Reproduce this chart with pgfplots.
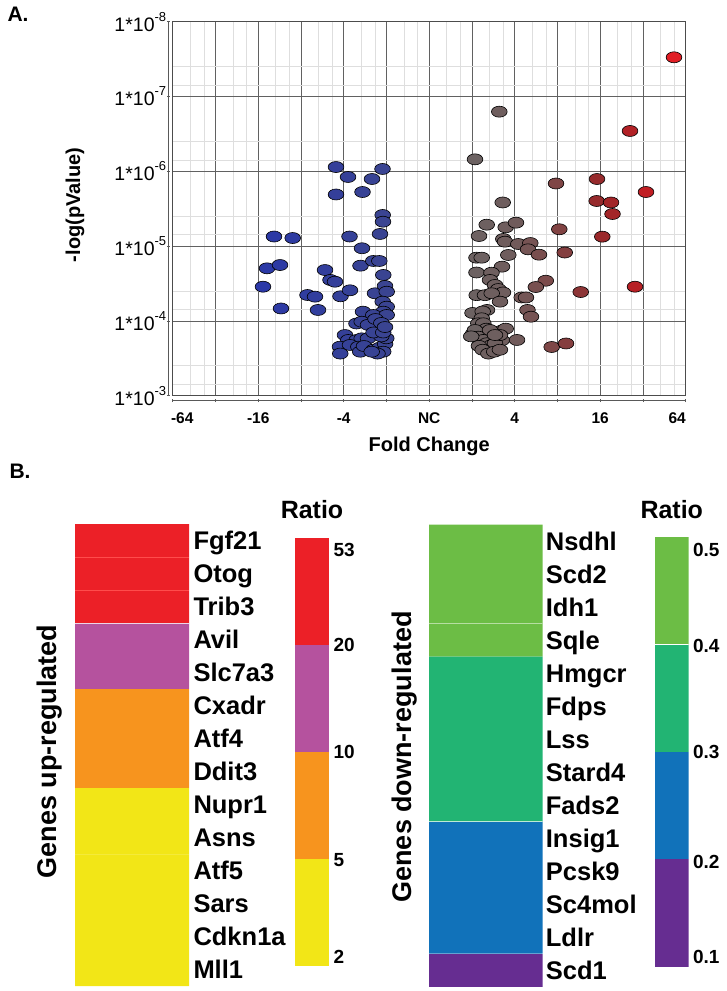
\documentclass[border=0pt]{standalone}
\usepackage{pgfplots}
\usepackage{pgfplotstable}
\pgfplotsset{compat=1.18}
\usepackage{fontspec}
\setmainfont{Liberation Sans}
\newcommand{\fs}[1]{\fontsize{#1}{#1}\selectfont}
\newcommand{\tl}[1]{1*10\raisebox{0.5em}{\fs{13}-#1}}
\definecolor{cRed}{RGB}{236,32,39}
\definecolor{cMag}{RGB}{181,82,158}
\definecolor{cOrg}{RGB}{247,148,30}
\definecolor{cYel}{RGB}{242,230,23}
\definecolor{cLgr}{RGB}{108,189,69}
\definecolor{cTeal}{RGB}{34,180,115}
\definecolor{cBlu}{RGB}{17,114,186}
\definecolor{cPur}{RGB}{102,45,145}

% x = signed log2 fold change (NC = 0), y = -log10(p)
\pgfplotstableread{
x y
-2.180 6.057
-1.899 5.924
-1.338 5.897
-1.092 6.031
-2.180 5.690
-1.560 5.723
-3.630 5.128
-3.193 5.108
-1.864 5.128
-1.572 4.971
-1.088 5.416
-1.081 5.326
-1.151 5.162
-3.794 4.703
-3.490 4.747
-3.888 4.457
-2.437 4.680
-2.309 4.547
-2.204 4.524
-2.847 4.346
-2.671 4.324
-2.075 4.329
-1.853 4.409
-1.607 4.738
-1.308 4.801
-1.167 4.801
-3.467 4.166
-2.601 4.146
-1.549 4.123
-1.268 4.369
-1.074 4.614
-1.034 4.467
-0.994 4.390
-1.088 4.257
-0.994 4.190
-1.074 4.123
-1.308 4.079
-0.994 4.079
-1.701 3.965
-1.579 3.989
-1.432 3.947
-1.256 4.025
-1.120 3.972
-1.970 3.811
-1.892 3.745
-1.696 3.745
-1.579 3.767
-2.087 3.655
-1.853 3.678
-1.658 3.655
-2.080 3.563
-1.614 3.588
-1.432 3.767
-1.525 3.664
-1.301 3.615
-1.165 3.640
-1.032 3.691
-1.076 3.588
-1.209 3.563
-1.345 3.588
-1.004 3.767
-1.120 3.793
-1.301 3.845
-1.076 3.845
-1.034 3.918
}\downdata

\pgfplotstableread{
x y
1.640 6.797
1.071 6.160
2.966 5.837
3.925 5.897
4.697 6.539
5.726 7.524
5.071 5.723
1.719 5.583
3.918 5.603
4.253 5.583
4.288 5.429
1.345 5.286
1.789 5.251
2.030 5.313
1.165 5.135
3.043 5.225
4.049 5.126
1.733 5.095
1.773 5.059
2.084 5.028
2.365 5.041
2.311 4.957
2.568 4.885
3.170 4.914
1.850 4.881
1.106 4.845
1.228 4.845
1.703 4.725
1.106 4.647
1.457 4.644
1.422 4.547
2.727 4.537
2.494 4.453
4.814 4.457
3.544 4.386
1.111 4.344
1.305 4.344
1.539 4.480
1.616 4.426
1.726 4.380
1.462 4.369
2.164 4.313
2.264 4.313
1.656 4.257
2.299 4.146
2.381 4.056
1.013 4.106
1.352 4.146
1.251 4.126
1.228 4.035
1.149 3.968
1.266 3.968
1.340 3.896
1.698 3.870
1.789 3.896
1.609 3.767
1.698 3.742
2.054 3.745
1.032 3.834
1.071 3.878
1.149 3.789
1.266 3.745
1.345 3.701
1.462 3.678
1.539 3.701
1.656 3.811
1.422 3.878
1.539 3.811
1.163 3.666
1.251 3.614
1.385 3.563
1.520 3.588
1.654 3.614
0.982 3.793
2.865 3.651
3.200 3.698
}\updata

\begin{document}
\begin{tikzpicture}
\path[use as bounding box] (0pt,0pt) rectangle (727pt,991pt);

% ---------------- Panel A: volcano plot ----------------
\begin{axis}[name=volc,
  at={(172.7pt,595.3pt)}, anchor=south west,
  scale only axis, width=513pt, height=374pt,
  xmin=-6, xmax=6, ymin=3, ymax=8,
  axis x line=bottom, axis y line=left,
  axis x line shift=5pt, axis y line shift=4pt,
  axis line style={-, draw=black!65, line width=0.8pt},
  xtick={-6,-5,...,6},
  xticklabels={\hspace*{19pt}-64,,-16,,-4,,NC,,4,,16,,64\hspace*{17pt}},
  ytick={3,4,5,6,7,8},
  yticklabels={\tl{3},\tl{4},\tl{5},\tl{6},\tl{7},\tl{8}},
  minor xtick={-5.59,-5.27,-4.59,-4.27,-3.59,-3.27,-2.59,-2.27,-1.59,-1.27,-0.59,-0.27,0.41,0.73,1.41,1.73,2.41,2.73,3.41,3.73,4.41,4.73,5.41,5.73},
  minor ytick={3.15,3.4,4.15,4.4,5.15,5.4,6.15,6.4,7.15,7.4},
  grid=both,
  major grid style={draw=black!62, line width=0.6pt},
  minor grid style={draw=black!13, line width=0.8pt},
  major tick length=3pt, minor tick length=0pt,
  tick style={draw=black!65, line width=0.6pt},
  xticklabel style={font=\bfseries\fs{15.5}, yshift=-7.4pt},
  yticklabel style={font=\fs{19.5}, xshift=2.5pt},
  colormap={volc}{rgb255(0cm)=(40,52,175); rgb255(2cm)=(42,56,168); rgb255(5cm)=(58,68,145); rgb255(6cm)=(90,85,120); rgb255(7cm)=(108,98,98); rgb255(8cm)=(112,92,92); rgb255(9cm)=(128,68,68); rgb255(10cm)=(152,40,42); rgb255(11cm)=(190,30,36); rgb255(12cm)=(238,30,38)},
  point meta min=-6, point meta max=6,
]
\addplot[scatter, only marks, scatter src=x, mark=*, mark size=5.5pt,
  mark options={xscale=1.43, line width=0.6pt},
  scatter/use mapped color={draw=black, fill=mapped color}] table[x=x,y=y] {\downdata};
\addplot[scatter, only marks, scatter src=x, mark=*, mark size=5.5pt,
  mark options={xscale=1.43, line width=0.6pt},
  scatter/use mapped color={draw=black, fill=mapped color}] table[x=x,y=y] {\updata};
\end{axis}
\draw[black!70, line width=0.8pt] (volc.south west) rectangle (volc.north east);

\node[anchor=base west, font=\bfseries\fs{21}] at (4pt,969.3pt) {A.};
\node[anchor=base, font=\bfseries\fs{20}] at (429.2pt,539.3pt) {Fold Change};
\node[rotate=90, anchor=base, font=\bfseries\fs{20}] at (80pt,786pt) {-log(pValue)};

% ---------------- Panel B ----------------
\node[anchor=base west, font=\bfseries\fs{21}] at (6pt,512.7pt) {B.};

% up-regulated heat map
\begin{axis}[at={(75pt,5pt)}, anchor=south west,
  scale only axis, width=114pt, height=462pt,
  xmin=0, xmax=1, ymin=0, ymax=14, y dir=reverse,
  hide x axis, axis y line=right, y axis line style={draw=none},
  ytick={0.5,1.5,...,13.5},
  yticklabels={Fgf21,Otog,Trib3,Avil,Slc7a3,Cxadr,Atf4,Ddit3,Nupr1,Asns,Atf5,Sars,Cdkn1a,Mll1},
  major tick length=0pt,
  yticklabel style={anchor=base west, inner sep=0pt, xshift=4.3pt, yshift=-9.1pt, font=\bfseries\fs{25.5}},
  xbar, bar width=1, bar shift=0pt]
\addplot[fill=cRed, draw=none] coordinates {(1,0.5) (1,1.5) (1,2.5)};
\addplot[fill=cMag, draw=none] coordinates {(1,3.5) (1,4.5)};
\addplot[fill=cOrg, draw=none] coordinates {(1,5.5) (1,6.5) (1,7.5)};
\addplot[fill=cYel, draw=none] coordinates {(1,8.5) (1,9.5) (1,10.5) (1,11.5) (1,12.5) (1,13.5)};
\draw[red!70!white, line width=0.35pt] (axis cs:0,1) -- (axis cs:1,1);
\draw[red!70!white, line width=0.35pt] (axis cs:0,2) -- (axis cs:1,2);
\draw[white!75!cMag, line width=0.6pt] (axis cs:0,3) -- (axis cs:1,3);
\draw[cYel!85!white, line width=0.3pt] (axis cs:0,10) -- (axis cs:1,10);
\end{axis}
\node[rotate=90, anchor=base, font=\bfseries\fs{27}] at (56pt,239.5pt) {Genes up-regulated};

% up-regulated colour key
\begin{axis}[at={(295pt,25.3pt)}, anchor=south west,
  scale only axis, width=34pt, height=427.4pt,
  xmin=0, xmax=1, ymin=0, ymax=4,
  hide x axis, axis y line=right, y axis line style={draw=none},
  ytick={0.084,0.989,2.003,3,3.89}, yticklabels={2,5,10,20,53},
  major tick length=0pt,
  yticklabel style={anchor=base west, inner sep=0pt, xshift=4.3pt, yshift=-6.8pt, font=\bfseries\fs{19}},
  title=Ratio, title style={at={(0.5,1)}, anchor=base, yshift=13.3pt, font=\bfseries\fs{25}},
  xbar, bar width=1, bar shift=0pt]
\addplot[fill=cYel, draw=none] coordinates {(1,0.5)};
\addplot[fill=cOrg, draw=none] coordinates {(1,1.5)};
\addplot[fill=cMag, draw=none] coordinates {(1,2.5)};
\addplot[fill=cRed, draw=none] coordinates {(1,3.5)};
\end{axis}

% down-regulated heat map
\begin{axis}[at={(429pt,4.5pt)}, anchor=south west,
  scale only axis, width=113.7pt, height=462pt,
  xmin=0, xmax=1, ymin=0, ymax=14, y dir=reverse,
  hide x axis, axis y line=right, y axis line style={draw=none},
  ytick={0.5,1.5,...,13.5},
  yticklabels={Nsdhl,Scd2,Idh1,Sqle,Hmgcr,Fdps,Lss,Stard4,Fads2,Insig1,Pcsk9,Sc4mol,Ldlr,Scd1},
  major tick length=0pt,
  yticklabel style={anchor=base west, inner sep=0pt, xshift=3pt, yshift=-9.1pt, font=\bfseries\fs{25.5}},
  xbar, bar width=1, bar shift=0pt]
\addplot[fill=cLgr, draw=none] coordinates {(1,0.5) (1,1.5) (1,2.5) (1,3.5)};
\addplot[fill=cTeal, draw=none] coordinates {(1,4.5) (1,5.5) (1,6.5) (1,7.5) (1,8.5)};
\addplot[fill=cBlu, draw=none] coordinates {(1,9.5) (1,10.5) (1,11.5) (1,12.5)};
\addplot[fill=cPur, draw=none] coordinates {(1,13.5)};
\draw[white!50!cLgr, line width=0.35pt] (axis cs:0,3) -- (axis cs:1,3);
\draw[white!70!cTeal, line width=0.7pt] (axis cs:0,9) -- (axis cs:1,9);
\end{axis}
\node[rotate=90, anchor=base, font=\bfseries\fs{27}] at (411pt,234pt) {Genes down-regulated};

% down-regulated colour key
\begin{axis}[at={(655pt,24.3pt)}, anchor=south west,
  scale only axis, width=33.5pt, height=429.4pt,
  xmin=0, xmax=1, ymin=0, ymax=4,
  hide x axis, axis y line=right, y axis line style={draw=none},
  ytick={0.09,0.978,2,2.99,3.88}, yticklabels={0.1,0.2,0.3,0.4,0.5},
  major tick length=0pt,
  yticklabel style={anchor=base west, inner sep=0pt, xshift=4.3pt, yshift=-6.8pt, font=\bfseries\fs{19}},
  title=Ratio, title style={at={(0.5,1)}, anchor=base, yshift=13.3pt, font=\bfseries\fs{25}},
  xbar, bar width=1, bar shift=0pt]
\addplot[fill=cPur, draw=none] coordinates {(1,0.5)};
\addplot[fill=cBlu, draw=none] coordinates {(1,1.5)};
\addplot[fill=cTeal, draw=none] coordinates {(1,2.5)};
\addplot[fill=cLgr, draw=none] coordinates {(1,3.5)};
\draw[white, line width=0.7pt] (axis cs:0,3) -- (axis cs:1,3);
\end{axis}
\end{tikzpicture}
\end{document}
